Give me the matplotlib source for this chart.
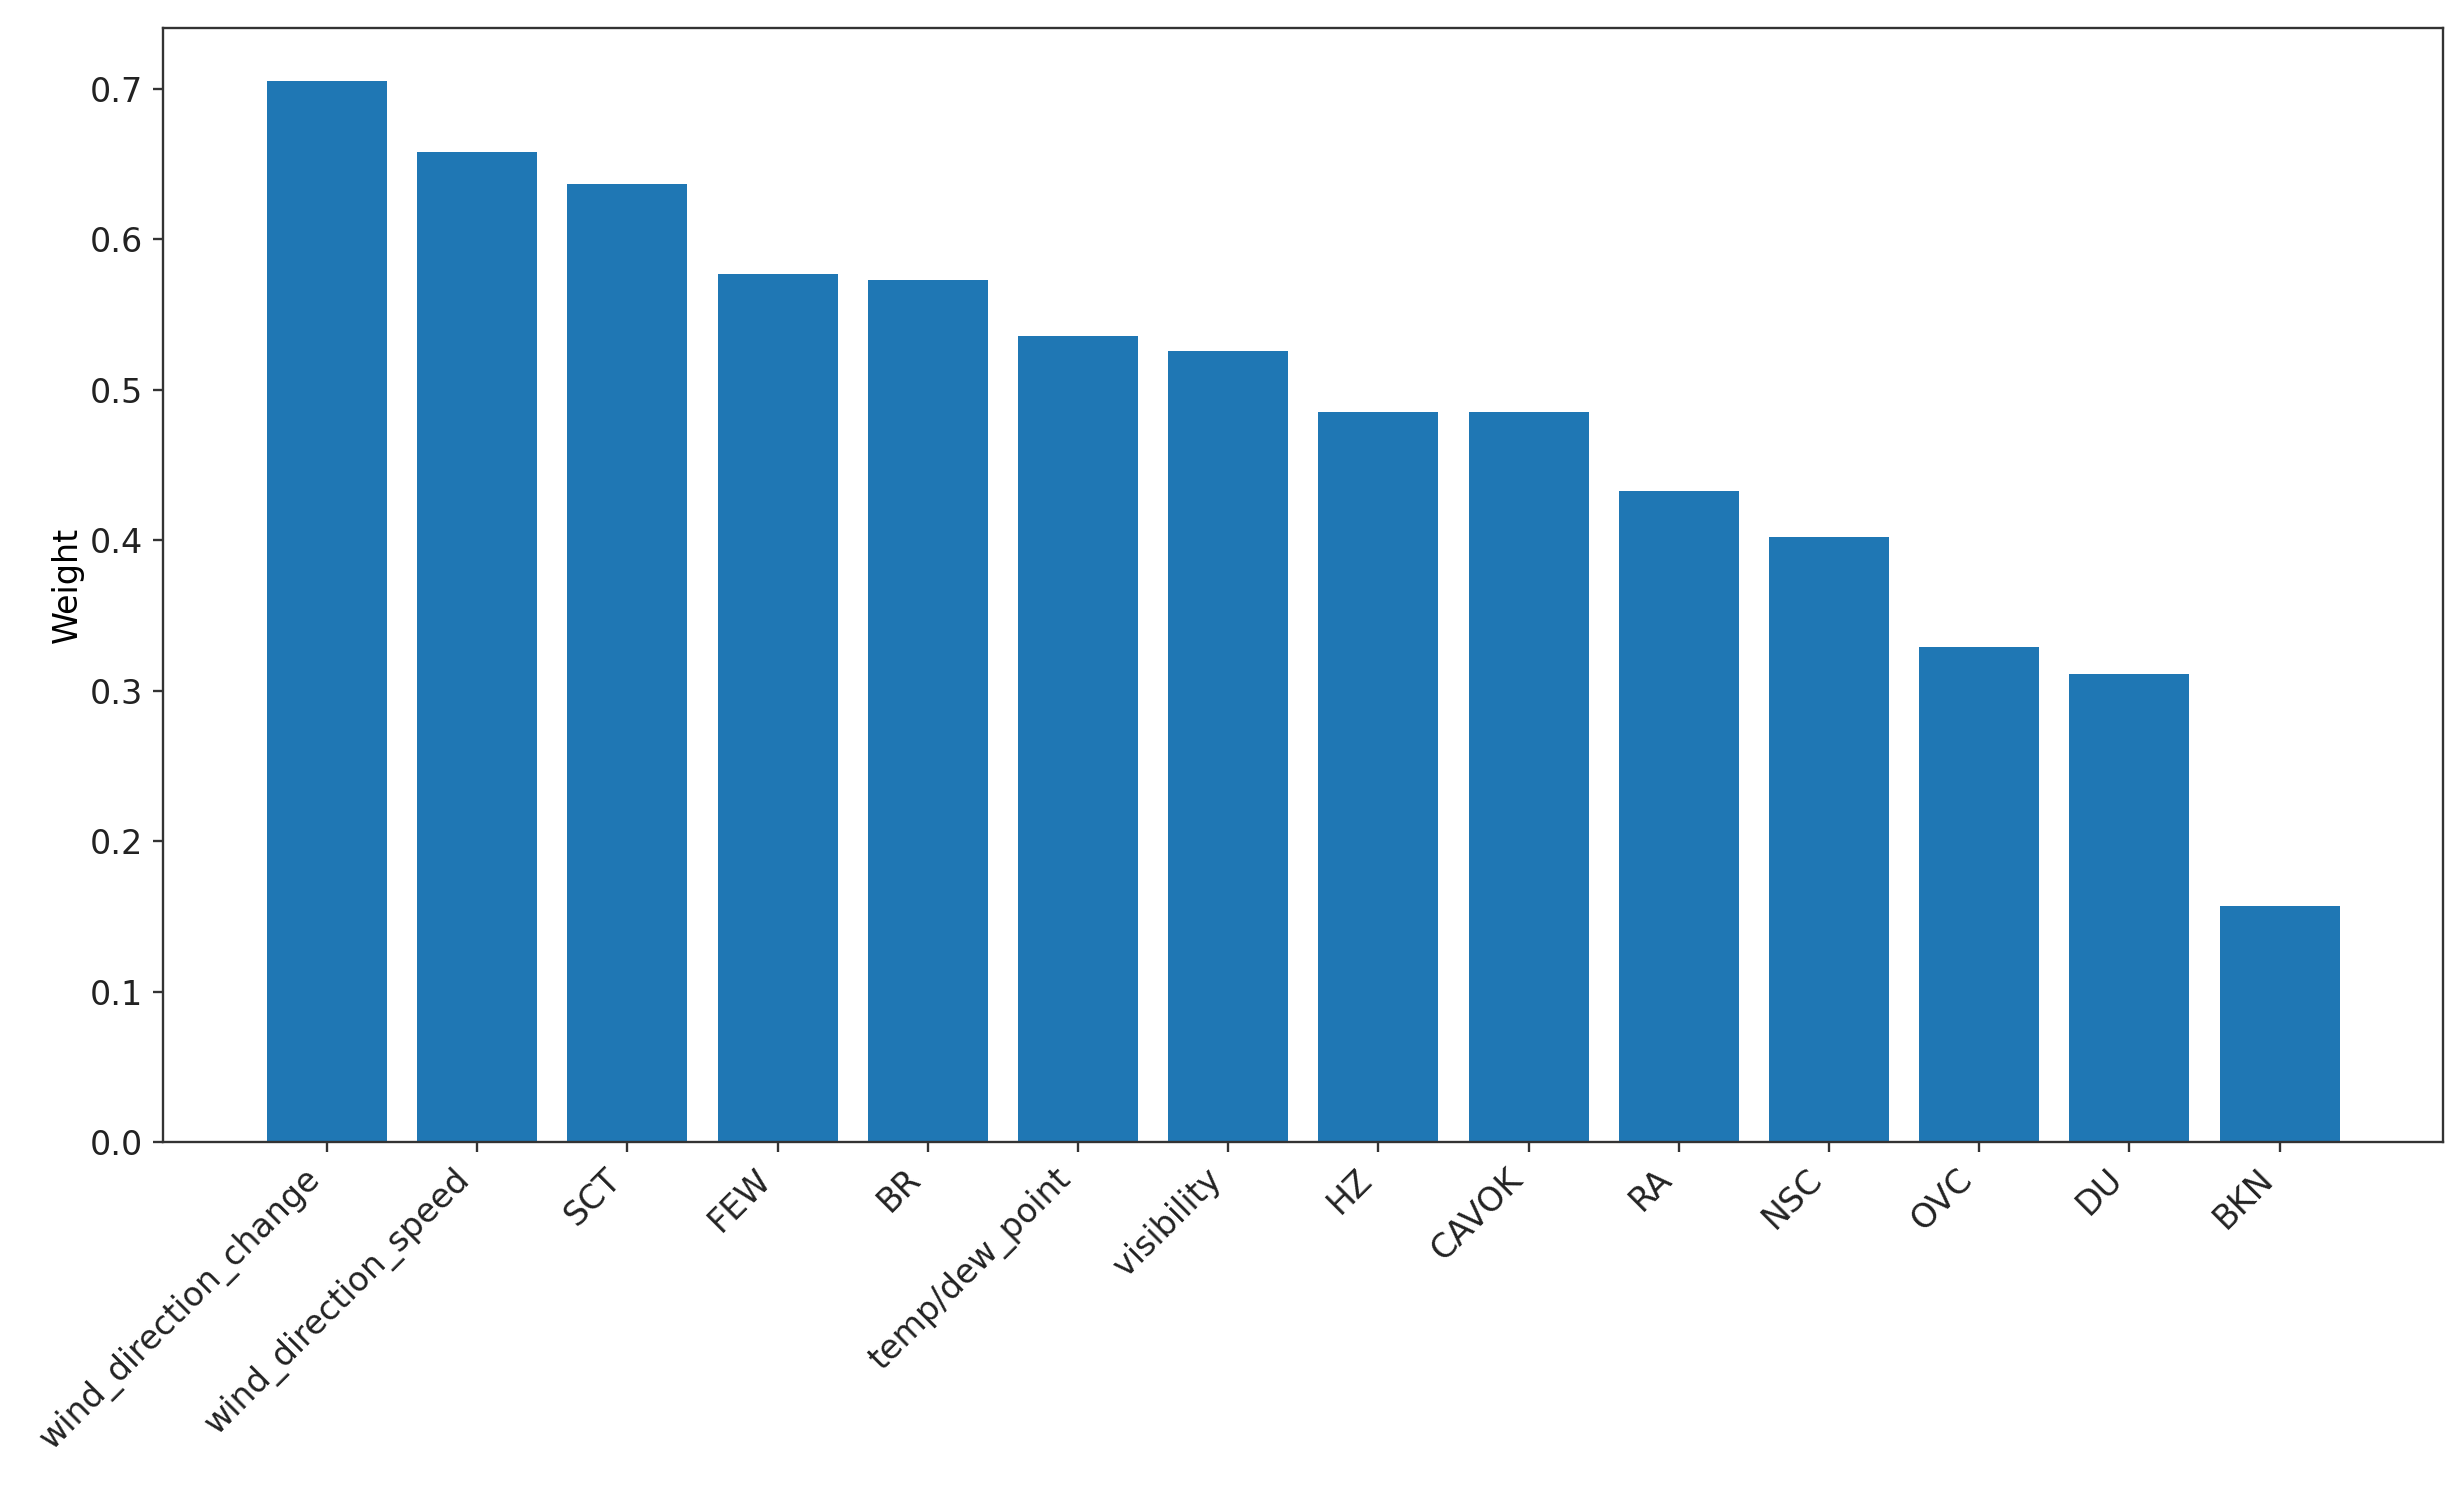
import matplotlib.pyplot as plt

# feature weights
features = ['wind_direction_change', 'wind_direction_speed', 'SCT', 'FEW', 'BR',
            'temp/dew_point', 'visibility', 'HZ', 'CAVOK', 'RA', 'NSC', 'OVC',
            'DU', 'BKN']
weights = [0.705, 0.658, 0.637, 0.577, 0.573, 0.536, 0.526, 0.485, 0.485,
           0.433, 0.402, 0.329, 0.311, 0.157]

scale = 2.1
plt.rcParams['font.size'] = 24
plt.rcParams['axes.linewidth'] = 0.8 * scale
plt.rcParams['xtick.major.size'] = 3.5 * scale
plt.rcParams['ytick.major.size'] = 3.5 * scale
plt.rcParams['xtick.major.width'] = 0.8 * scale
plt.rcParams['ytick.major.width'] = 0.8 * scale
plt.rcParams['xtick.major.pad'] = 3.5 * scale
plt.rcParams['ytick.major.pad'] = 3.5 * scale

fig, ax = plt.subplots(figsize=(24.63, 14.86), dpi=100)
fig.subplots_adjust(left=0.0663, right=0.992, top=0.981, bottom=0.2315)

ax.bar(features, weights, color='#1f77b4')
ax.set_ylabel('Weight')
plt.xticks(rotation=45, ha='right')

for s in ax.spines.values():
    s.set_color('#333333')
ax.tick_params(colors='#333333', labelcolor='#222222')

fig.savefig('out.png')
